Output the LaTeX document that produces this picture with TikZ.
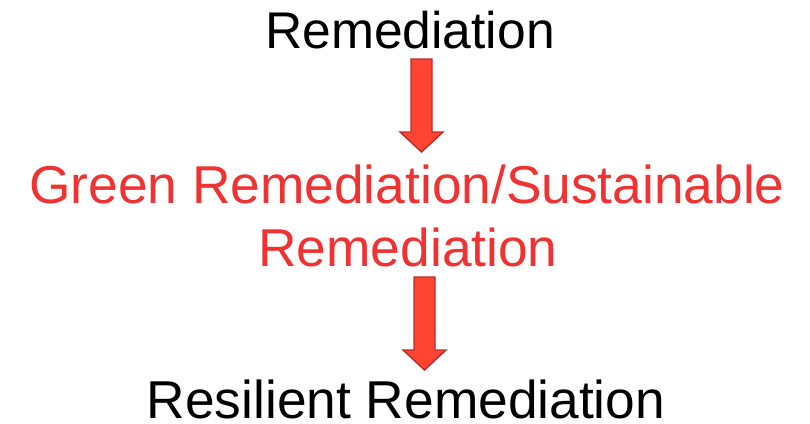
\documentclass[tikz,border=0pt]{standalone}
\usepackage{fontspec}
\setmainfont{Liberation Sans}
\definecolor{txtred}{RGB}{240,50,50}
\definecolor{arrfill}{RGB}{255,68,51}
\definecolor{arredge}{RGB}{185,45,40}
\tikzset{
  lbl/.style={inner sep=0pt, anchor=base, font=\fontsize{53.3}{60}\selectfont},
  redlbl/.style={lbl, text=txtred},
  blockarrow/.style={fill=arrfill, draw=arredge, line width=1.4pt, line join=miter},
  down arrow/.pic={
    \path[blockarrow] (-10.5,0) -- (-10.5,73) -- (-21.5,73) -- (0,93) -- (21.5,73) -- (10.5,73) -- (10.5,0) -- cycle;
  }
}
\begin{document}
\begin{tikzpicture}[x=1pt,y=-1pt]
\useasboundingbox[fill=white] (0,0) rectangle (810,423);
\node[lbl, font=\fontsize{51.6}{60}\selectfont] (rem) at (410,48) {Remediation};
\node[redlbl] (green1) at (407,203) {Green Remediation/Sustainable};
\node[redlbl] (green2) at (408,266) {Remediation};
\node[lbl] (res) at (406,418) {Resilient Remediation};
\coordinate (a1) at (421.5,59);
\coordinate (a2) at (424.5,277);
\pic at (a1) {down arrow};
\pic at (a2) {down arrow};
\end{tikzpicture}
\end{document}
